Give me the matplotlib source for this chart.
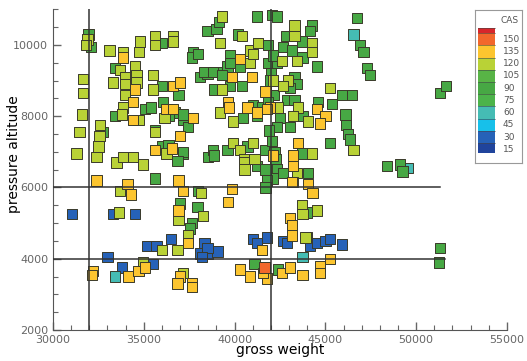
"""Gross weight vs pressure altitude, squares coloured by calibrated airspeed."""

import matplotlib.pyplot as plt
import numpy as np
from matplotlib.colors import BoundaryNorm, ListedColormap
from matplotlib.ticker import MultipleLocator

# Contour levels of the CAS legend and the band colour drawn at each level
CAS_LEVELS = [15, 30, 45, 60, 75, 90, 105, 120, 135, 150]
BAND_COLORS = ["#20449c", "#2662b8", "#17c0ea", "#45bcb4", "#4cb34a", "#47a844",
               "#58b446", "#b9d236", "#fcc52f", "#f2672c", "#d8262b"]

# Samples (gross weight lb, pressure altitude ft) grouped by CAS level
cas_30 = [(31050, 5250), (33300, 5250), (34500, 5250), (33000, 4050), (33800, 3750),
          (35500, 3850), (35200, 4350), (35700, 4350), (36500, 4550), (38100, 4150),
          (38550, 4150), (39050, 4200), (38350, 4450), (38500, 4300), (38200, 4050),
          (41000, 4550), (41800, 4600), (41250, 4450), (42650, 4500), (42900, 4450),
          (44000, 4600), (44150, 4350), (44550, 4450), (45000, 4500), (45250, 4550),
          (45900, 4400)]
cas_60 = [(46550, 10300), (43750, 4050), (33400, 3500), (49550, 6550)]
cas_90 = [(31950, 10300), (32100, 9950), (33400, 9350), (33400, 8000), (32750, 7550),
          (36000, 10050), (36000, 8850), (35050, 8200), (35400, 8250), (36050, 8400),
          (36700, 8100), (37150, 7900), (35600, 7600), (36000, 7150), (37150, 6950),
          (38550, 6850), (38800, 7050), (39600, 7050), (40700, 7150), (38500, 10400),
          (39000, 10450), (39150, 10650), (37700, 9800), (37650, 9650), (38000, 9750),
          (38100, 9100), (38500, 9200), (39000, 9250), (39600, 9400), (40300, 9400),
          (39750, 9700), (41250, 8000), (38350, 9250), (38800, 9250), (39300, 9150),
          (40200, 10300), (41250, 10800), (42050, 10850), (41850, 10000), (41850, 9500),
          (39750, 9500), (36900, 8600), (38900, 8750), (39750, 8850), (40400, 8850),
          (42000, 9200), (42350, 10800), (44250, 10550), (42850, 10250), (43700, 10100),
          (44150, 10400), (42650, 9950), (43150, 9850), (43750, 9650), (44550, 9400),
          (42350, 9500), (43300, 9100), (43400, 8900), (43050, 8800), (42900, 8450),
          (43300, 8450), (44600, 8400), (43750, 8000), (42500, 7950), (42350, 7700),
          (43050, 7700), (43750, 6950), (44050, 6400), (42350, 6500), (42650, 6400),
          (42100, 6250), (45900, 8600), (46450, 8600), (45350, 8350), (46100, 8050),
          (46150, 7750), (46250, 7500), (46350, 7350), (45250, 7250), (46750, 10750),
          (46900, 10000), (47100, 9800), (47300, 9350), (47450, 9150), (51300, 8650),
          (51650, 8850), (48400, 6600), (49100, 6650), (49250, 6450), (36350, 8000),
          (37150, 8050), (37450, 7700), (37150, 7000), (36850, 6750), (36350, 7200),
          (38850, 6900), (41250, 6600), (41700, 6500), (41800, 6200), (41700, 7050),
          (41700, 6000), (41000, 8300), (41500, 8250), (40450, 7950), (38000, 5900),
          (37000, 5550), (37950, 5450), (37650, 5000), (37550, 4850), (35600, 6250),
          (41100, 3850), (42400, 3700), (44000, 5300), (51300, 4300), (51250, 3900),
          (42050, 7300), (41900, 7600), (42150, 8600), (41950, 9000), (42200, 7000),
          (41850, 8400), (42100, 9700), (42250, 6800)]
cas_120 = [(31900, 10150), (31800, 10000), (31650, 9050), (31650, 8650), (31600, 8050),
           (31450, 7550), (31300, 6950), (32600, 7750), (32550, 7450), (32500, 7150),
           (32400, 6850), (33100, 9850), (33850, 9800), (33700, 9300), (33300, 8950),
           (33950, 9100), (33950, 8900), (33950, 8600), (34500, 9400), (34600, 9150),
           (34600, 8950), (33850, 8250), (33800, 8050), (34800, 10100), (34750, 9800),
           (35600, 10250), (35600, 10000), (36600, 10250), (36600, 10100), (35500, 8750),
           (36150, 7950), (35600, 7550), (36250, 6950), (33500, 6700), (33850, 6850),
           (34400, 6850), (34950, 6650), (39300, 10800), (39200, 10050), (39300, 8750),
           (40400, 10250), (40850, 9850), (40850, 9500), (39200, 8100), (39900, 7850),
           (39900, 7250), (40300, 7050), (40550, 6800), (41000, 7250), (40550, 6700),
           (40550, 6500), (41100, 6800), (41300, 10050), (41000, 9750), (42600, 9550),
           (43300, 10550), (43300, 10250), (44250, 10050), (44250, 9800), (43450, 9550),
           (42100, 9000), (42950, 9000), (42650, 8850), (42400, 8250), (43500, 8250),
           (43200, 8000), (44050, 7850), (44250, 6950), (43450, 6400), (45250, 8800),
           (46550, 7050), (33650, 5300), (33700, 5900), (38150, 5850), (36900, 5100),
           (38250, 5200), (37450, 4650), (36000, 4250), (36850, 4250), (34950, 3900),
           (37150, 3600), (43700, 5500), (43750, 5250), (44550, 5350), (43900, 4600),
           (35500, 9150), (34700, 7900)]
cas_135 = [(33850, 9650), (34500, 8750), (34400, 8400), (34400, 7900), (36600, 8850),
           (37000, 8950), (36250, 8200), (37700, 7950), (37000, 7450), (35600, 7050),
           (36550, 7100), (39850, 9100), (40950, 9100), (40300, 9600), (39650, 8400),
           (39700, 8250), (40700, 8250), (41250, 8100), (41700, 8700), (36600, 8200),
           (44550, 8200), (45000, 8000), (44700, 7800), (42100, 6900), (43500, 7250),
           (43200, 6900), (43200, 6600), (43200, 6150), (44050, 6100), (44300, 5850),
           (41950, 8250), (41800, 8200), (32400, 6200), (34100, 6100), (34300, 5800),
           (36900, 6200), (37150, 5900), (39850, 5950), (39650, 5600), (36900, 5350),
           (37450, 4450), (43150, 6150), (43050, 5150), (43150, 4950), (43150, 4650),
           (41500, 4250), (40300, 3700), (40850, 3500), (41800, 3450), (41550, 3600),
           (42600, 3600), (43050, 3750), (43750, 3550), (45250, 4000), (44700, 3800),
           (44700, 3600), (37000, 3500), (36850, 3300), (37650, 3300), (37650, 3200),
           (32200, 3650), (32150, 3550), (34150, 3500), (34700, 3650), (35050, 3750)]
cas_150 = [(41650, 3750)]

# Guide lines: vertical weight limits and horizontal altitude limits (alt, end weight)
GUIDE_WEIGHTS = [32000, 42000]
GUIDE_ALTITUDES = [(6000, 51300), (4000, 51600)]

groups = [(30, cas_30), (60, cas_60), (90, cas_90), (120, cas_120),
          (135, cas_135), (150, cas_150)]
weight = np.array([w for _, pts in groups for w, _ in pts])
altitude = np.array([a for _, pts in groups for _, a in pts])
cas = np.array([c for c, pts in groups for _ in pts])

levels = np.array(CAS_LEVELS, dtype=float)
half = (levels[1] - levels[0]) / 2
edges = np.concatenate(([levels[0] - 5], levels + half, [levels[-1] + 13.5]))
edges[-2] = levels[-1] + half
cmap = ListedColormap(BAND_COLORS)
norm = BoundaryNorm(edges, cmap.N)

plt.rcParams.update({"font.family": "DejaVu Sans", "figure.dpi": 100})
fig = plt.figure(figsize=(5.27, 3.61))
ax = fig.add_axes([0.1006, 0.0859, 0.8614, 0.8881])

ax.scatter(weight, altitude, c=cas, cmap=cmap, norm=norm, marker="s", s=56,
           edgecolors="#3a3a2a", linewidths=0.7, zorder=2)

for w in GUIDE_WEIGHTS:
    ax.plot([w, w], [2000, 11000], color="#333333", lw=1.1, zorder=3)
for a, end in GUIDE_ALTITUDES:
    ax.plot([30000, end], [a, a], color="#333333", lw=1.1, zorder=3)

ax.set_xlim(30000, 55000)
ax.set_ylim(2000, 11000)
ax.set_xticks([30000, 35000, 40000, 45000, 50000, 55000])
ax.set_yticks([2000, 4000, 6000, 8000, 10000])
ax.xaxis.set_minor_locator(MultipleLocator(1000))
ax.yaxis.set_minor_locator(MultipleLocator(500))
ax.tick_params(which="both", direction="in", colors="#666666", labelsize=8,
               labelcolor="#666666")
ax.tick_params(which="major", length=6, width=1)
ax.tick_params(which="minor", length=3.5, width=0.8)
ax.spines["top"].set_visible(False)
ax.spines["right"].set_visible(False)
for side in ("left", "bottom"):
    ax.spines[side].set_color("#555555")
ax.set_xlabel("gross weight", fontsize=10, va="top")
ax.set_ylabel("pressure altitude", fontsize=10)
ax.xaxis.set_label_coords(0.5, -0.04)
ax.yaxis.set_label_coords(-0.07, 0.55)

# CAS contour legend
lax = fig.add_axes([0.901, 0.548, 0.089, 0.424])
lax.set_xlim(0, 1)
lax.set_ylim(-2, 185.6)
for lo, hi, color in zip(edges[:-1], edges[1:], BAND_COLORS):
    lax.fill_between([0.06, 0.42], lo, hi, color=color, lw=0)
    lax.plot([0.06, 0.42], [hi, hi], color="#444444", lw=0.4)
for level in CAS_LEVELS:
    lax.text(0.6, level, f"{level}", fontsize=6.5, color="#555555",
             va="center", ha="left")
lax.text(0.94, 173, "CAS", fontsize=6.5, color="#555555", va="center", ha="right")
lax.set_xticks([])
lax.set_yticks([])
for spine in lax.spines.values():
    spine.set_color("#999999")
    spine.set_linewidth(0.8)

fig.savefig("out.png", dpi=100)
